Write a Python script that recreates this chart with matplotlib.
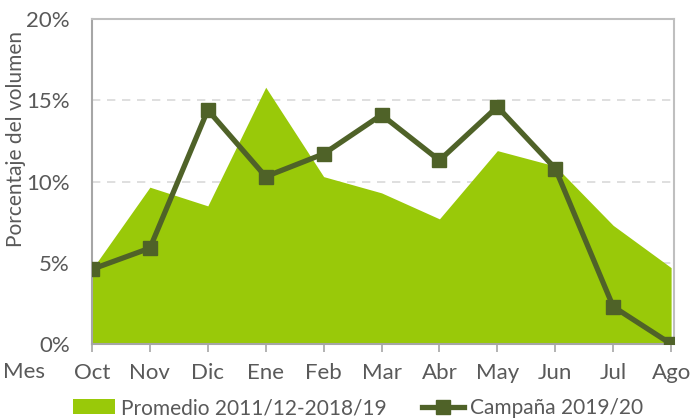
import numpy as np
import matplotlib.pyplot as plt

meses = ["Oct", "Nov", "Dic", "Ene", "Feb", "Mar", "Abr", "May", "Jun", "Jul", "Ago"]
promedio = [4.6, 9.65, 8.5, 15.8, 10.3, 9.3, 7.7, 11.9, 10.95, 7.3, 4.7]
campana = [4.6, 5.9, 14.4, 10.3, 11.7, 14.1, 11.3, 14.6, 10.8, 2.3, 0.0]

verde = "#99C909"
oscuro = "#4F6228"
gris = "#595959"

plt.rcParams['font.family'] = ['Lato', 'DejaVu Sans']

fig = plt.figure(figsize=(6.95, 4.19), dpi=100)
ax = fig.add_axes([92 / 695, 1 - 344 / 419, 582 / 695, 325 / 419])

x = np.arange(len(meses))
ax.fill_between(x, promedio, 0, color=verde, linewidth=0,
                label="Promedio 2011/12-2018/19", zorder=2)
ax.plot(x, campana, color=oscuro, linewidth=3.8, marker="s", markersize=10.5,
        label="Campaña 2019/20", zorder=3)

ax.set_xlim(0, 10.05)
ax.set_ylim(0, 20)
ax.set_yticks([0, 5, 10, 15, 20])
ax.set_yticklabels(["0%", "5%", "10%", "15%", "20%"])
ax.set_xticks(x)
ax.set_xticklabels(meses)
ax.yaxis.grid(True, color="#D9D9D9", linestyle=(0, (5, 4)), linewidth=1.2, zorder=1)
ax.set_axisbelow(True)

for s in ax.spines.values():
    s.set_color("#BFBFBF")
    s.set_linewidth(1.5)
ax.spines["bottom"].set_color("#A6A6A6")
ax.spines["left"].set_color("#A6A6A6")

ax.tick_params(axis="y", length=0, pad=16, labelsize=16, labelcolor=gris)
ax.tick_params(axis="x", length=6, width=1.2, color="#A6A6A6", direction="out",
               pad=8, labelsize=16, labelcolor=gris)

ax.set_ylabel("Porcentaje del volumen", fontsize=15, color=gris)
ax.yaxis.set_label_coords(-0.113, 0.63)

fig.text(24 / 695, 1 - 372 / 419, "Mes", fontsize=16, color=gris,
         ha="center", va="center")

fig.legend(loc="center", bbox_to_anchor=(0.515, 1 - 408 / 419), ncol=2,
           frameon=False, fontsize=15, labelcolor=gris, handlelength=2.0,
           handletextpad=0.3, columnspacing=1.7)

fig.savefig("out.png", dpi=100)
